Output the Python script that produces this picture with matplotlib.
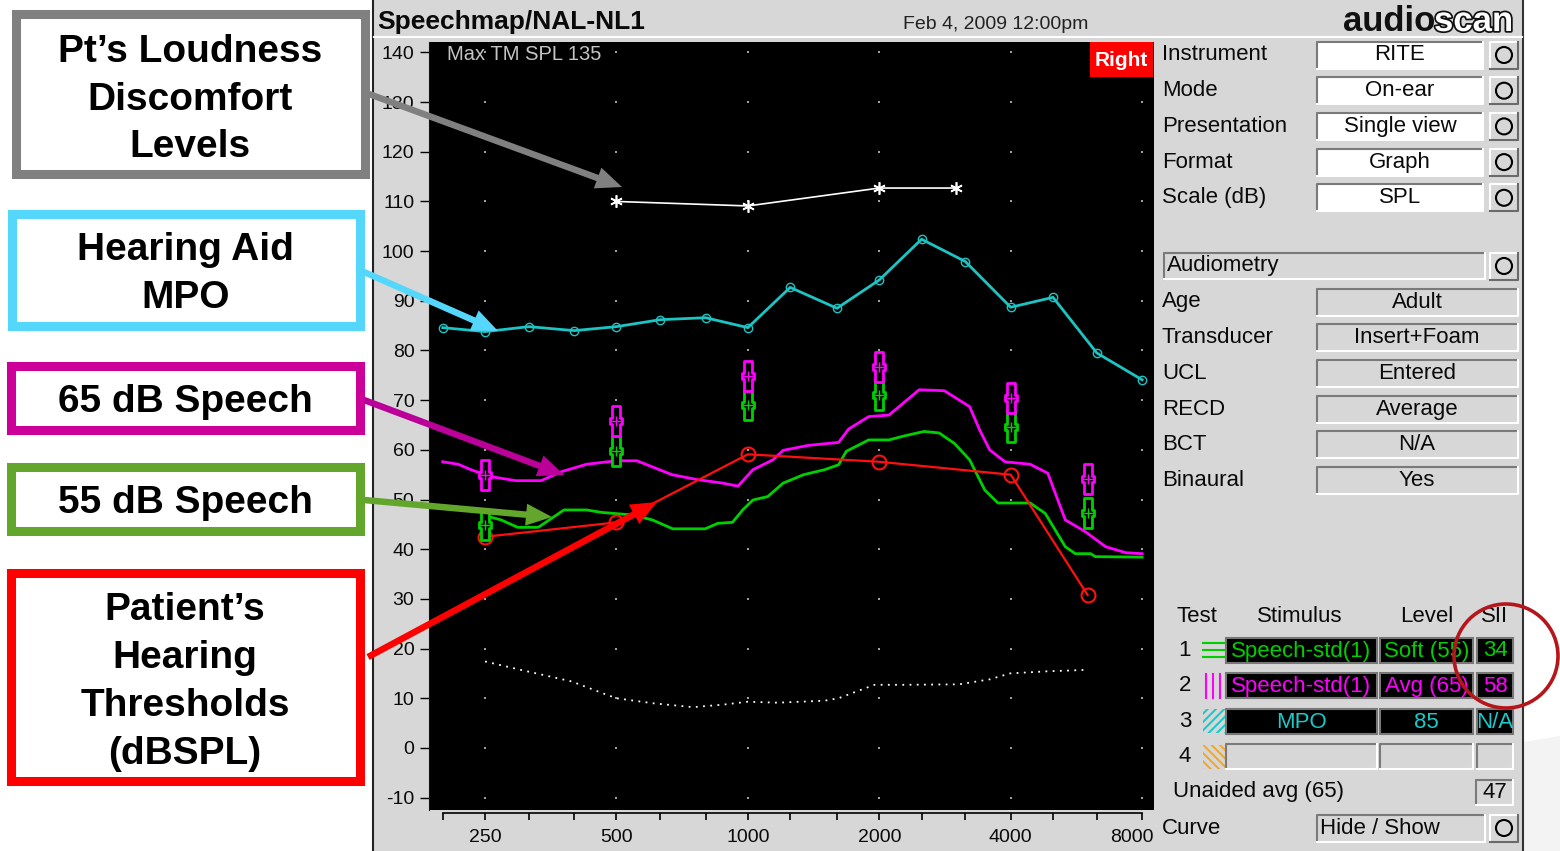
import matplotlib
matplotlib.use("Agg")
import matplotlib.pyplot as plt
from matplotlib.patches import Rectangle, FancyArrow, Circle, Polygon
from matplotlib.path import Path
from matplotlib.ticker import NullFormatter
import matplotlib.transforms as mtransforms
import matplotlib.patheffects as pe
import numpy as np

plt.rcParams['font.family'] = ['Liberation Sans', 'DejaVu Sans']
plt.rcParams['hatch.linewidth'] = 1.5
plt.rcParams['axes.unicode_minus'] = False

# ---- measurements (Hz, dB SPL) ----
ldl_freq = [500, 1000, 2000, 3000]
ldl_db = [110.0, 109.1, 112.7, 112.7]

mpo_freq = [200, 250, 315, 400, 500, 630, 800, 1000, 1250, 1600, 2000,
            2500, 3150, 4000, 5000, 6300, 8000]
mpo_db = [84.6, 83.8, 84.8, 84.0, 84.8, 86.2, 86.6, 84.6, 92.7, 88.5, 94.2,
          102.4, 97.9, 88.7, 90.7, 79.5, 74.1]

speech65_freq = [200, 217, 232, 258, 294, 336, 374, 427, 500, 557, 670, 767,
                 876, 949, 1027, 1142, 1204, 1376, 1614, 1702, 1892, 2105,
                 2469, 2819, 3220, 3396, 3580, 3880, 4432, 4864, 5335, 5934,
                 6600, 7337, 8000]
speech65_db = [57.6, 57.1, 56.0, 54.6, 53.8, 53.8, 55.6, 57.1, 57.8, 57.8,
               55.0, 54.0, 53.3, 52.7, 56.0, 58.0, 59.9, 60.9, 61.5, 64.2,
               66.7, 67.0, 72.1, 71.9, 68.7, 64.0, 60.0, 57.6, 57.1, 55.3,
               45.9, 43.5, 40.5, 39.3, 39.1]

speech55_freq = [251, 272, 297, 331, 355, 379, 427, 463, 543, 604, 673, 798,
                 853, 922, 973, 1027, 1111, 1204, 1342, 1498, 1614, 1680,
                 1892, 2105, 2281, 2533, 2742, 2972, 3220, 3490, 3740, 4432,
                 4800, 5335, 5626, 6100, 6250, 8000]
speech55_db = [46.7, 45.9, 44.4, 44.4, 46.2, 47.9, 47.9, 47.4, 46.9, 45.9,
               44.1, 44.1, 45.2, 45.4, 47.9, 49.9, 50.6, 53.3, 55.0, 56.0,
               57.0, 59.7, 62.0, 62.0, 62.8, 63.7, 63.4, 61.3, 58.0, 51.9,
               49.3, 49.3, 47.2, 40.5, 39.1, 39.1, 38.5, 38.4]

thresh_freq = [250, 500, 1000, 2000, 4000, 6000]
thresh_db = [42.5, 45.4, 59.1, 57.6, 55.0, 30.8]

target_freq = [250, 500, 1000, 2000, 4000, 6000]
target65_db = [55.0, 65.8, 74.8, 76.6, 70.5, 54.1]
target55_db = [44.9, 59.7, 69.1, 71.1, 64.5, 47.2]

noise_freq = [250, 302, 394, 475, 500, 604, 748, 876, 1000, 1168, 1498, 1614,
              1791, 1950, 2281, 3050, 3580, 3990, 4800, 5934]
noise_db = [17.4, 15.7, 13.4, 10.7, 10.0, 9.0, 8.2, 8.7, 9.3, 9.1, 9.5, 10.0,
            11.5, 12.7, 12.7, 12.8, 13.8, 15.0, 15.4, 15.7]

octave_ticks = [250, 500, 1000, 2000, 4000, 8000]
third_octave_ticks = [200, 250, 315, 400, 500, 630, 800, 1000, 1250, 1600,
                      2000, 2500, 3150, 4000, 5000, 6300, 8000]
level_ticks = list(range(-10, 141, 10))

setup_labels = ["Instrument", "Mode", "Presentation", "Format", "Scale (dB)"]
setup_values = ["RITE", "On-ear", "Single view", "Graph", "SPL"]
audio_labels = ["Age", "Transducer", "UCL", "RECD", "BCT", "Binaural"]
audio_values = ["Adult", "Insert+Foam", "Entered", "Average", "N/A", "Yes"]
test_stimulus = ["Speech-std(1)", "Speech-std(1)", "MPO", ""]
test_level = ["Soft (55)", "Avg (65)", "85", ""]
test_sii = ["34", "58", "N/A", ""]
unaided_sii = "47"

callouts = [
    (["Pt\u2019s Loudness", "Discomfort", "Levels"], "#808080"),
    (["Hearing Aid", "MPO"], "#55d7fb"),
    (["65 dB Speech"], "#cc0099"),
    (["55 dB Speech"], "#63a62c"),
    (["Patient\u2019s", "Hearing", "Thresholds", "(dBSPL)"], "#ff0000"),
]

GREEN = '#00d000'
MAGENTA = '#ff00ff'
CYAN = '#1cc4c4'
PANEL = '#d7d7d7'
INK = '#0a0a0a'

W, H = 1560, 851
fig = plt.figure(figsize=(W / 100, H / 100), dpi=100)
fig.patch.set_facecolor('white')


def frac(x0, y0, x1, y1):
    return [x0 / W, 1 - y1 / H, (x1 - x0) / W, (y1 - y0) / H]


def pixel_axes(z):
    a = fig.add_axes([0, 0, 1, 1], zorder=z)
    a.set_xlim(0, W)
    a.set_ylim(H, 0)
    a.axis('off')
    a.patch.set_alpha(0)
    return a


def sunken(a, x0, y0, x1, y1, face):
    a.add_patch(Rectangle((x0, y0), x1 - x0, y1 - y0, fc=face, ec='none'))
    a.plot([x0, x0, x1], [y1, y0, y0], color='#7a7a7a', lw=1.5)
    a.plot([x0, x1, x1], [y1, y1, y0], color='white', lw=1.5)


def button(a, yc):
    x0, x1 = 1490, 1518
    a.add_patch(Rectangle((x0, yc - 13.5), x1 - x0, 27, fc=PANEL, ec='none'))
    a.plot([x0, x0, x1], [yc + 13.5, yc - 13.5, yc - 13.5], color='white', lw=1.5)
    a.plot([x0, x1, x1], [yc + 13.5, yc + 13.5, yc - 13.5], color='#6a6a6a', lw=1.5)
    a.add_patch(Circle((1504, yc), 8, fc='none', ec='black', lw=1.5))


# ---- instrument screen background and side panel ----
bg = pixel_axes(0)
bg.add_patch(Rectangle((373, 0), 1523 - 373, H, fc=PANEL, ec='none'))
bg.add_patch(Polygon([(1524, 742), (1560, 736), (1560, H), (1524, H)],
                     fc='#f3f3f3', ec='none'))
bg.plot([373, 373], [0, H], color='#222222', lw=1.5)
bg.plot([1523, 1523], [0, H], color='#333333', lw=1.5)
bg.plot([374, 1522], [37, 37], color='white', lw=1.5)

bg.text(377, 29, "Speechmap/NAL-NL1", fontsize=19, fontweight='bold',
        va='baseline', ha='left', color=INK)
bg.text(996, 29, "Feb 4, 2009 12:00pm", fontsize=14, va='baseline', ha='center',
        color='#222222')
bg.text(1343, 31, "audio", fontsize=25, fontweight='bold', va='baseline',
        ha='left', color='#111111')
bg.text(1434, 31, "scan", fontsize=25, fontweight='bold', va='baseline',
        ha='left', color='white',
        path_effects=[pe.withStroke(linewidth=2.5, foreground='#111111')])

row_y = [55 + 35.7 * i for i in range(len(setup_labels))]
for y, lab, val in zip(row_y, setup_labels, setup_values):
    bg.text(1162, y, lab, fontsize=16, va='center', ha='left', color=INK)
    sunken(bg, 1317, y - 13.5, 1483, y + 13.5, 'white')
    bg.text(1400, y, val, fontsize=16, va='center', ha='center', color=INK)
    button(bg, y)

sunken(bg, 1164, 253, 1485, 279, PANEL)
bg.text(1167, 266, "Audiometry", fontsize=16, va='center', ha='left', color=INK)
button(bg, 266)

row_y = [302 + 35.7 * i for i in range(len(audio_labels))]
for y, lab, val in zip(row_y, audio_labels, audio_values):
    bg.text(1162, y, lab, fontsize=16, va='center', ha='left', color=INK)
    sunken(bg, 1317, y - 13.5, 1518, y + 13.5, PANEL)
    bg.text(1417, y, val, fontsize=16, va='center', ha='center', color=INK)

for x, lab in zip([1197, 1300, 1427, 1495], ["Test", "Stimulus", "Level", "SII"]):
    bg.text(x, 617, lab, fontsize=16, va='center', ha='center', color=INK)

row_colors = [GREEN, MAGENTA, '#19caca', None]
row_y = [650 + 35.6 * i for i in range(4)]
cols = [(1226, 1377), (1380, 1473), (1477, 1513)]
for i, (y, c) in enumerate(zip(row_y, row_colors)):
    bg.text(1185, y, str(i + 1), fontsize=16, va='center', ha='center', color=INK)
    texts = [test_stimulus[i], test_level[i], test_sii[i]]
    for (x0, x1), t in zip(cols, texts):
        if c is None:
            sunken(bg, x0, y - 12.5, x1, y + 12.5, PANEL)
        else:
            bg.add_patch(Rectangle((x0, y - 12.5), x1 - x0, 25, fc='black',
                                   ec='#777777', lw=1.5))
            bg.text((x0 + x1) / 2, y + 1, t, fontsize=16, va='center',
                    ha='center', color=c)
# curve swatches next to each test number
for dy in (-7, 0, 7):
    bg.plot([1203, 1225], [row_y[0] + dy] * 2, color=GREEN, lw=1.5)
for dx in (0, 7, 14):
    bg.plot([1206 + dx] * 2, [row_y[1] - 12, row_y[1] + 12], color=MAGENTA, lw=1.5)
bg.add_patch(Rectangle((1203, row_y[2] - 12), 22, 24, fc='none', ec='#19caca',
                       lw=0, hatch='////'))
bg.add_patch(Rectangle((1203, row_y[3] - 12), 22, 24, fc='none', ec='#f0a830',
                       lw=0, hatch='\\\\\\\\'))

bg.text(1173, 792, "Unaided avg (65)", fontsize=16, va='center', ha='left', color=INK)
sunken(bg, 1476, 780, 1513, 805, PANEL)
bg.text(1494.5, 792, unaided_sii, fontsize=16, va='center', ha='center', color=INK)

bg.text(1162, 828, "Curve", fontsize=16, va='center', ha='left', color=INK)
sunken(bg, 1317, 815, 1485, 842, PANEL)
bg.text(1320, 828, "Hide / Show", fontsize=16, va='center', ha='left', color=INK)
button(bg, 828)

# ---- Speechmap graph ----
xmin, xmax = 186.0, 8518.0
ax = fig.add_axes(frac(429, 42, 1154, 810), zorder=1)
ax.set_facecolor('black')
ax.set_xscale('log', base=2)
ax.set_xlim(xmin, xmax)
ax.set_ylim(-12.5, 142.1)
ax.set_yticks(level_ticks)
ax.tick_params(axis='x', which='both', bottom=False, labelbottom=False)
ax.tick_params(axis='y', direction='out', length=6.5, width=1, color='black',
               labelsize=14, pad=4, labelcolor=INK)
for side in ('top', 'right', 'bottom'):
    ax.spines[side].set_visible(False)
ax.spines['left'].set_color('#111111')

gx, gy = np.meshgrid(octave_ticks, level_ticks)
ax.scatter(gx.ravel(), gy.ravel(), s=2, c='#a0a0a0', marker='s', lw=0, zorder=1)

ax.plot(noise_freq, noise_db, color='white', lw=1.3, ls=(0, (1, 3)), zorder=2)
ax.plot(ldl_freq, ldl_db, color='white', lw=1.2, marker=(6, 2, 0), ms=9,
        mew=1.2, zorder=3)
ax.plot(mpo_freq, mpo_db, color=CYAN, lw=2, marker='o', ms=6, mfc='none',
        mew=1, zorder=3)
ax.plot(speech55_freq, speech55_db, color=GREEN, lw=2, zorder=3)
ax.plot(speech65_freq, speech65_db, color=MAGENTA, lw=2, zorder=4)
ax.plot(thresh_freq, thresh_db, color='#ff1010', lw=1.6, marker='o', ms=10,
        mfc='none', mew=1.5, zorder=5)

bw, cw, ch = 0.13, 0.22, 0.11
target_marker = Path([(-bw, 0.5), (bw, 0.5), (bw, ch), (cw, ch), (cw, -ch),
                      (bw, -ch), (bw, -0.5), (-bw, -0.5), (-bw, -ch),
                      (-cw, -ch), (-cw, ch), (-bw, ch), (-bw, 0.5)], closed=True)
ax.plot(target_freq, target55_db, ls='none', marker=target_marker, ms=21,
        mfc='black', mec=GREEN, mew=2, zorder=6)
ax.plot(target_freq, target65_db, ls='none', marker=target_marker, ms=21,
        mfc='black', mec=MAGENTA, mew=2, zorder=6)
ax.plot(target_freq, target55_db, ls='none', marker='+', ms=7,
        mec=GREEN, mew=1, zorder=7)
ax.plot(target_freq, target65_db, ls='none', marker='+', ms=7,
        mec=MAGENTA, mew=1, zorder=7)

# frequency scale bar under the graph
axt = fig.add_axes(frac(429, 813, 1154, 826), zorder=1)
axt.patch.set_alpha(0)
axt.set_xscale('log', base=2)
axt.set_xlim(xmin, xmax)
axt.set_yticks([])
for side in ('left', 'right', 'bottom'):
    axt.spines[side].set_visible(False)
axt.spines['top'].set_bounds(third_octave_ticks[0], third_octave_ticks[-1])
axt.spines['top'].set_linewidth(1.2)
axt.set_xticks(octave_ticks, [str(f) for f in octave_ticks])
axt.set_xticks(third_octave_ticks, minor=True)
axt.xaxis.set_minor_formatter(NullFormatter())
axt.tick_params(axis='x', which='both', top=True, bottom=False, direction='in',
                length=5, width=1.2, labeltop=False, labelbottom=True,
                labelsize=14, pad=2, labelcolor=INK)
# keep the last frequency label inside the graph frame
last = axt.get_xticklabels()[-1]
last.set_transform(last.get_transform() +
                   mtransforms.ScaledTranslation(-10 / 100, 0, fig.dpi_scale_trans))

# ---- overlay: callout boxes, arrows, labels ----
ov = pixel_axes(5)
ov.add_patch(Rectangle((1090, 42), 63, 35, fc='#ff0000', ec='none'))
ov.text(1121.5, 60, "Right", fontsize=15, fontweight='bold', color='white',
        va='center', ha='center')
ov.text(447, 54, "Max TM SPL 135", fontsize=14.5, color='#c4c4c4', va='center',
        ha='left')

box_extents = [(11, 9, 369, 178), (7, 209, 364, 330), (6, 361, 364, 434),
               (6, 462, 364, 535), (6, 568, 364, 785)]
first_baseline = [62, 260, 412, 513, 620]
pitch = [47.5, 48, 48, 48, 48]
for (lines, col), (x0, y0, x1, y1), b0, p in zip(callouts, box_extents,
                                                 first_baseline, pitch):
    ov.add_patch(Rectangle((x0 + 4.5, y0 + 4.5), x1 - x0 - 9, y1 - y0 - 9,
                           fc='white', ec=col, lw=6.5))
    for k, line in enumerate(lines):
        ov.text((x0 + x1) / 2, b0 + k * p, line, fontsize=28, fontweight='bold',
                va='baseline', ha='center', color='black')

arrows = [((369, 94), (622, 187), '#808080'),
          ((364, 272), (498, 331), '#55d7fb'),
          ((364, 400), (564, 475), '#bb0099'),
          ((364, 500), (552, 517), '#63a62c'),
          ((368, 657), (657, 502), '#ff0000')]
for (xs, ys), (xe, ye), col in arrows:
    ov.add_patch(FancyArrow(xs, ys, xe - xs, ye - ys, width=6.5, head_width=22,
                            head_length=26, length_includes_head=True,
                            fc=col, ec='none'))

ov.add_patch(Circle((1506, 656), 52, fc='none', ec='#b4161c', lw=2.6))

fig.savefig('out.png', dpi=100, facecolor=fig.get_facecolor())
